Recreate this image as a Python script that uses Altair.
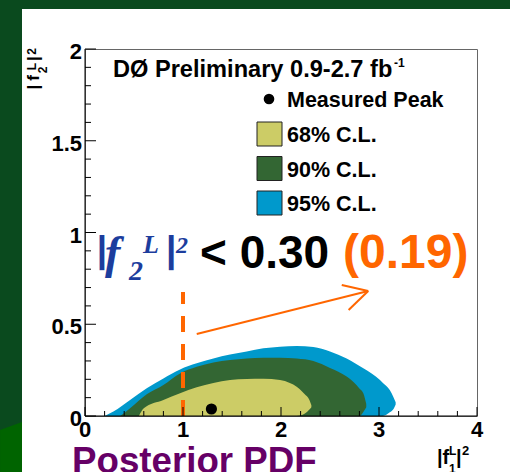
import altair as alt
import pandas as pd

# ---------------- data ----------------
# 95% C.L. region (x, upper edge, lower edge)
c95_x = [0.20, 0.29, 0.46, 0.63, 0.80, 0.97, 1.14, 1.31, 1.48, 1.65, 1.82, 1.99, 2.16, 2.33, 2.50, 2.67, 2.84, 3.01, 3.04, 3.11, 3.15, 3.17]
c95_hi = [0.0, 0.024, 0.087, 0.151, 0.205, 0.254, 0.287, 0.314, 0.335, 0.352, 0.369, 0.378, 0.381, 0.376, 0.352, 0.314, 0.260, 0.196, 0.180, 0.142, 0.100, 0.075]
c95_lo = [0.0, 0.0, 0.0, 0.0, 0.0, 0.0, 0.0, 0.0, 0.0, 0.0, 0.0, 0.0, 0.0, 0.0, 0.0, 0.0, 0.0, 0.0, 0.0, 0.020, 0.040, 0.062]
# 90% C.L. region
c90_x = [0.36, 0.46, 0.63, 0.80, 0.97, 1.14, 1.31, 1.48, 1.65, 1.82, 1.99, 2.16, 2.33, 2.50, 2.67, 2.77, 2.80, 2.84, 2.87]
c90_hi = [0.0, 0.042, 0.118, 0.169, 0.232, 0.268, 0.292, 0.305, 0.313, 0.317, 0.318, 0.314, 0.300, 0.262, 0.215, 0.169, 0.150, 0.124, 0.065]
c90_lo = [0.0, 0.0, 0.0, 0.0, 0.0, 0.0, 0.0, 0.0, 0.0, 0.0, 0.0, 0.0, 0.0, 0.0, 0.0, 0.0, 0.0, 0.022, 0.048]
# 68% C.L. region
c68_x = [0.55, 0.60, 0.80, 0.97, 1.14, 1.31, 1.48, 1.65, 1.82, 1.99, 2.09, 2.16, 2.24, 2.29, 2.31]
c68_hi = [0.0, 0.042, 0.087, 0.124, 0.157, 0.180, 0.196, 0.202, 0.203, 0.196, 0.180, 0.160, 0.120, 0.087, 0.058]
c68_lo = [0.0, 0.0, 0.0, 0.0, 0.0, 0.0, 0.0, 0.0, 0.0, 0.0, 0.0, 0.0, 0.012, 0.035, 0.048]

peak_x = [1.29]
peak_y = [0.038]

limit_x = [1.0]
limit_top = [0.676]

arrow_x = [1.14, 2.89, 2.89, 2.62, 2.89, 2.69]
arrow_y = [0.447, 0.681, 0.681, 0.714, 0.681, 0.578]
arrow_seg = [0, 0, 1, 1, 2, 2]

x_major = [0, 1, 2, 3, 4]
x_tick_labels = ["0", "1", "2", "3", "4"]
x_minor = [0.2, 0.4, 0.6, 0.8, 1.2, 1.4, 1.6, 1.8, 2.2, 2.4, 2.6, 2.8, 3.2, 3.4, 3.6, 3.8]
y_major = [0, 0.5, 1, 1.5, 2]
y_tick_labels = ["0", "0.5", "1", "1.5", "2"]
y_minor = [0.1, 0.2, 0.3, 0.4, 0.6, 0.7, 0.8, 0.9, 1.1, 1.2, 1.3, 1.4, 1.6, 1.7, 1.8, 1.9]

legend_labels = ["68% C.L.", "90% C.L.", "95% C.L."]
legend_colors = ["#cccc66", "#336633", "#0099cc"]
header_text = "DØ Preliminary 0.9-2.7 fb"
header_sup = "-1"
peak_label = "Measured Peak"
limit_text = "< 0.30"
limit_exp = "(0.19)"
footer_text = "Posterior PDF"

corner_x = [-0.867, -0.643]
corner_top = [-0.076, -0.033]
corner_bot = [-0.305, -0.305]

# ---------------- styling ----------------
W, H = 392, 367
SANS = "Liberation Sans"
SERIF = "Liberation Serif"
DARK_BG = "#0a4a1e"
LIGHT_BG = "#006400"
ORANGE = "#ff6600"
BLUE_T = "#1c3d9d"
PURPLE = "#660066"

xs = alt.Scale(domain=[0, 4], nice=False, zero=False)
ys = alt.Scale(domain=[0, 2], nice=False, zero=False)


def X(f):
    return alt.X(f, type="quantitative", scale=xs, axis=None)


def Y(f):
    return alt.Y(f, type="quantitative", scale=ys, axis=None)


one = pd.DataFrame({"k": [0]})


def box(x, x2, y, y2, color, **kw):
    return alt.Chart(one).mark_rect(color=color, opacity=1, **kw).encode(
        x=alt.value(x), x2=alt.value(x2), y=alt.value(y), y2=alt.value(y2))


def label(text, x, y, size, color="black", font=SANS, weight="bold", style="normal",
          angle=0, align="left", baseline="alphabetic"):
    return alt.Chart(one).mark_text(
        text=text, fontSize=size, font=font, fontWeight=weight, fontStyle=style,
        color=color, align=align, baseline=baseline, angle=angle
    ).encode(x=alt.value(x), y=alt.value(y))


layers = []

# slide decoration (green frame around the white panel)
layers.append(box(-85, 425, -49, -40, DARK_BG))
layers.append(box(-85, -63, -49, 423, DARK_BG))
corner = pd.DataFrame({"x": corner_x, "t": corner_top, "b": corner_bot})
layers.append(alt.Chart(corner).mark_area(color=LIGHT_BG, opacity=1).encode(
    x=X("x"), y=Y("t"), y2="b"))

# contour regions
for cx, chi, clo, col in [(c95_x, c95_hi, c95_lo, legend_colors[2]),
                          (c90_x, c90_hi, c90_lo, legend_colors[1]),
                          (c68_x, c68_hi, c68_lo, legend_colors[0])]:
    df = pd.DataFrame({"x": cx, "hi": chi, "lo": clo})
    layers.append(alt.Chart(df).mark_area(color=col, opacity=1, interpolate="monotone").encode(
        x=X("x"), y=Y("hi"), y2="lo"))

# measured peak
layers.append(alt.Chart(pd.DataFrame({"x": peak_x, "y": peak_y})).mark_point(
    filled=True, color="black", opacity=1, size=125, shape="circle").encode(x=X("x"), y=Y("y")))

# dashed limit line
layers.append(alt.Chart(pd.DataFrame({"x": limit_x, "y0": [0.0], "y1": limit_top})).mark_rule(
    color=ORANGE, strokeWidth=4, strokeDash=[16, 12]).encode(x=X("x"), y=Y("y0"), y2="y1"))

# arrow
layers.append(alt.Chart(pd.DataFrame({"x": arrow_x, "y": arrow_y, "s": arrow_seg})).mark_line(
    color=ORANGE, strokeWidth=2).encode(x=X("x"), y=Y("y"), detail="s:N"))

# axis lines
layers.append(alt.Chart(one).mark_rule(color="black", strokeWidth=1).encode(
    x=alt.value(0), x2=alt.value(W), y=alt.value(H)))
layers.append(alt.Chart(one).mark_rule(color="black", strokeWidth=1).encode(
    x=alt.value(0), y=alt.value(0), y2=alt.value(H)))

# ticks (inside)
layers.append(alt.Chart(pd.DataFrame({"x": x_major})).mark_rule(color="black", strokeWidth=1).encode(
    x=X("x"), y=alt.value(H), y2=alt.value(H - 9)))
layers.append(alt.Chart(pd.DataFrame({"x": x_minor})).mark_rule(color="black", strokeWidth=1).encode(
    x=X("x"), y=alt.value(H), y2=alt.value(H - 5)))
layers.append(alt.Chart(pd.DataFrame({"y": y_major})).mark_rule(color="black", strokeWidth=1).encode(
    y=Y("y"), x=alt.value(0), x2=alt.value(11)))
layers.append(alt.Chart(pd.DataFrame({"y": y_minor})).mark_rule(color="black", strokeWidth=1).encode(
    y=Y("y"), x=alt.value(0), x2=alt.value(6)))

# tick labels
layers.append(alt.Chart(pd.DataFrame({"x": x_major, "t": x_tick_labels})).mark_text(
    font=SANS, fontSize=22, fontWeight="bold", color="black", align="center", baseline="top"
).encode(x=X("x"), y=alt.value(H + 4), text="t:N"))
layers.append(alt.Chart(pd.DataFrame({"y": y_major, "t": y_tick_labels})).mark_text(
    font=SANS, fontSize=22, fontWeight="bold", color="black", align="right", baseline="middle", dy=3
).encode(y=Y("y"), x=alt.value(-3), text="t:N"))

# legend
layers.append(label(header_text, 28, 28, 23.6))
layers.append(label(header_sup, 309, 18, 12))
layers.append(alt.Chart(one).mark_point(filled=True, color="black", opacity=1, size=113, shape="circle").encode(
    x=alt.value(184), y=alt.value(50)))
layers.append(label(peak_label, 202, 58, 21.5))
for i, (lab, col) in enumerate(zip(legend_labels, legend_colors)):
    top = 73 + i * 34.5
    layers.append(box(172, 197, top, top + 24, col, stroke="#222222", strokeWidth=1))
    layers.append(label(lab, 202, top + 20, 21.5))

# big limit annotation
layers.append(label("|", 11.7, 213, 37, color=BLUE_T))
layers.append(label("f", 20, 219, 46, color=BLUE_T, font=SERIF, style="italic"))
layers.append(label("2", 44, 231, 28, color=BLUE_T, font=SERIF, style="italic"))
layers.append(label("L", 58, 204, 26, color=BLUE_T, font=SERIF, style="italic"))
layers.append(label("|", 81, 213, 37, color=BLUE_T))
layers.append(label("2", 91, 204, 24, color=BLUE_T, font=SERIF, style="italic"))
layers.append(label(limit_text, 115, 219, 46))
layers.append(label(limit_exp, 258, 219, 48, color=ORANGE))

# x axis title |f1L|^2
layers.append(label("|f", 352, 415, 20))
layers.append(label("L", 364, 406, 12))
layers.append(label("1", 364, 424, 12))
layers.append(label("|", 371, 415, 20))
layers.append(label("2", 377, 406, 13))

# y axis title |f2L|^2 (rotated)
layers.append(label("|", -46, 38, 17, angle=270, align="center"))
layers.append(label("f", -46, 29, 17, angle=270, align="center"))
layers.append(label("L", -49, 17.5, 12, angle=270, align="center"))
layers.append(label("2", -38, 21, 12, angle=270, align="center"))
layers.append(label("|", -46, 9.5, 17, angle=270, align="center"))
layers.append(label("2", -49, 2.5, 12, angle=270, align="center"))

# footer
layers.append(label(footer_text, -13, 424, 36.7, color=PURPLE))

chart = alt.layer(*layers).properties(
    width=W, height=H,
    padding={"left": 85, "top": 49, "right": 33, "bottom": 56},
    autosize=alt.AutoSizeParams(type="none"),
).configure(background="white").configure_view(stroke="#666666", strokeWidth=1)

chart.save("out.html", embed_options={"renderer": "svg", "actions": False})
